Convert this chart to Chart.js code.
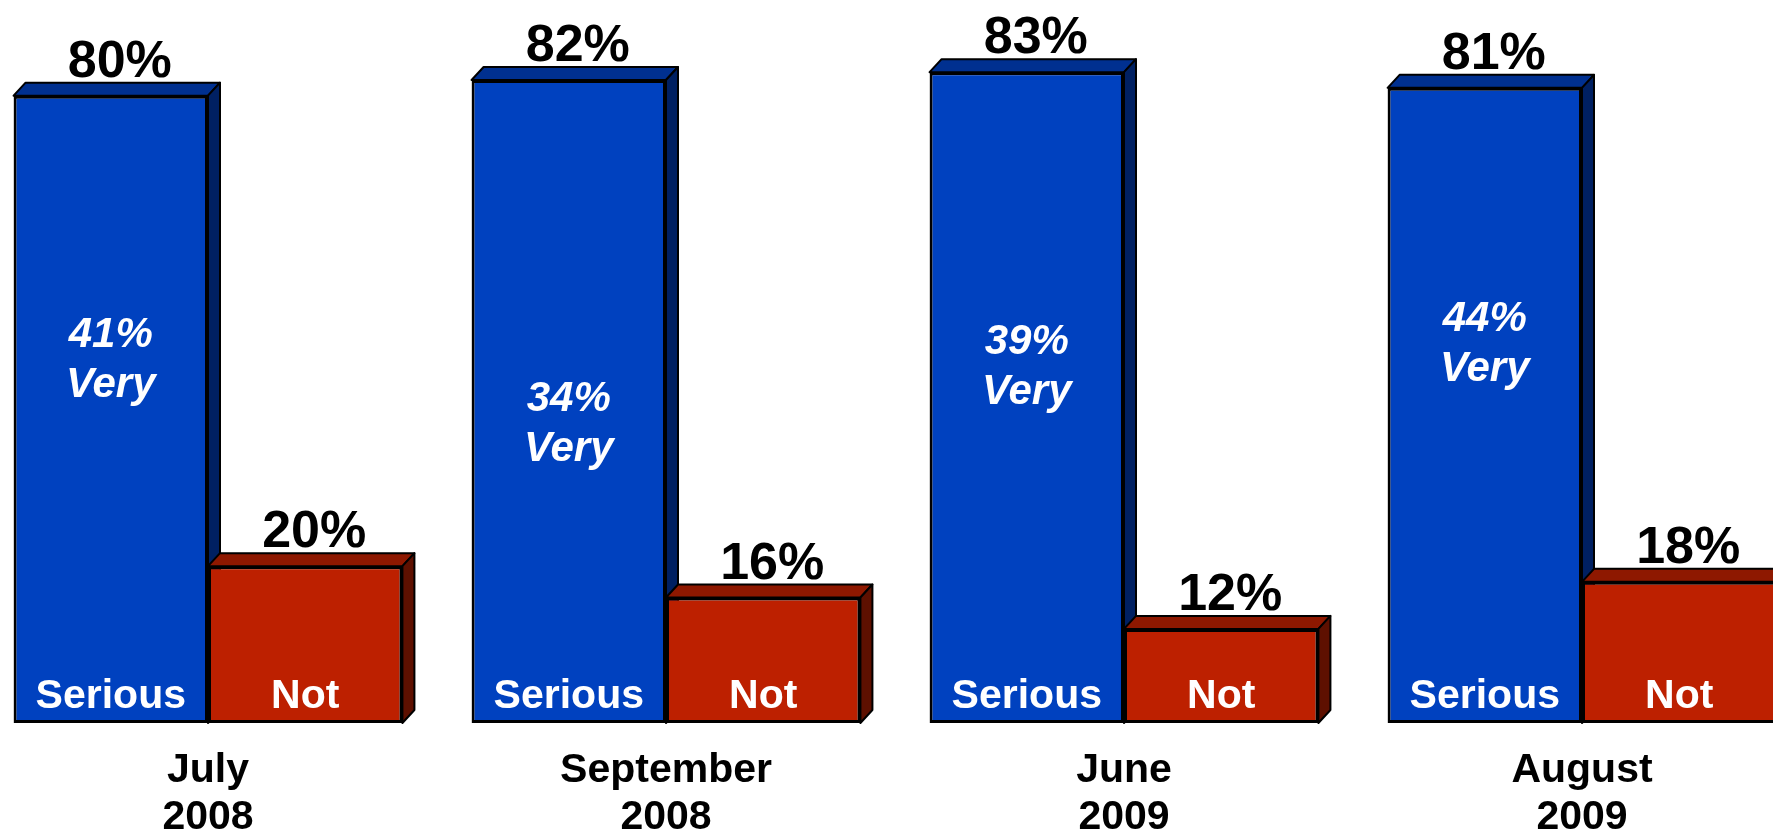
<!DOCTYPE html>
<html>
<head>
<meta charset="utf-8">
<script src="https://cdn.jsdelivr.net/npm/chart.js@4.4.1/dist/chart.umd.min.js"></script>
<style>
  html, body { margin: 0; padding: 0; background: #ffffff; }
  #wrap { width: 1773px; height: 835px; }
</style>
</head>
<body>
<div id="wrap"><canvas id="c" width="1773" height="835"></canvas></div>
<script>
// ---- data ----
const categories = [["July", "2008"], ["September", "2008"], ["June", "2009"], ["August", "2009"]];
const seriousValues = [80, 82, 83, 81];
const notSeriousValues = [20, 16, 12, 18];
const verySeriousValues = [41, 34, 39, 44];
const barNames = ["Serious", "Not"];

const FONT = "'Liberation Sans', Arial, Helvetica, sans-serif";
const DX = 12, DY = 13;

const faceColors = [
  { top: '#003090', side: '#002062' },
  { top: '#8E1800', side: '#5E1000' }
];

const depthPlugin = {
  id: 'depth',
  beforeDatasetsDraw(chart) {
    const ctx = chart.ctx;
    chart.data.datasets.forEach((ds, di) => {
      const meta = chart.getDatasetMeta(di);
      meta.data.forEach(el => {
        const p = el.getProps(['x', 'y', 'base', 'width'], true);
        const l = p.x - p.width / 2, r = p.x + p.width / 2, t = p.y, b = p.base;
        ctx.save();
        ctx.lineWidth = 2;
        ctx.strokeStyle = '#000';
        ctx.lineJoin = 'round';
        // top face
        ctx.beginPath();
        ctx.moveTo(l, t); ctx.lineTo(l + DX, t - DY); ctx.lineTo(r + DX, t - DY); ctx.lineTo(r, t); ctx.closePath();
        ctx.fillStyle = faceColors[di].top; ctx.fill(); ctx.stroke();
        // side face
        ctx.beginPath();
        ctx.moveTo(r, t); ctx.lineTo(r + DX, t - DY); ctx.lineTo(r + DX, b - DY); ctx.lineTo(r, b); ctx.closePath();
        ctx.fillStyle = faceColors[di].side; ctx.fill(); ctx.stroke();
        ctx.restore();
      });
    });
  }
};

// first-line baseline of the "xx% Very" note, in axis value units
const veryLabelAt = [47.96, 39.8, 47.07, 50.0];

const labelPlugin = {
  id: 'labels',
  afterDatasetsDraw(chart) {
    const ctx = chart.ctx;
    const yScale = chart.scales.y;
    ctx.save();
    chart.data.datasets.forEach((ds, di) => {
      const meta = chart.getDatasetMeta(di);
      meta.data.forEach((el, i) => {
        const p = el.getProps(['x', 'y', 'base', 'width'], true);
        // value above bar
        ctx.fillStyle = '#000';
        ctx.font = 'bold 52px ' + FONT;
        ctx.textAlign = 'center';
        ctx.textBaseline = 'alphabetic';
        ctx.fillText(ds.data[i] + '%', p.x + 9, p.y - DY - 6);
        // name inside bar
        ctx.fillStyle = '#fff';
        ctx.font = 'bold 41px ' + FONT;
        ctx.fillText(barNames[di], p.x, p.base - 15);
        if (di === 0) {
          ctx.font = 'italic bold 42px ' + FONT;
          const yb = yScale.getPixelForValue(veryLabelAt[i]);
          ctx.fillText(verySeriousValues[i] + '%', p.x, yb);
          ctx.fillText('Very', p.x, yb + 50);
        }
      });
    });
    ctx.restore();
  }
};

new Chart(document.getElementById('c'), {
  type: 'bar',
  data: {
    labels: categories,
    datasets: [
      { label: 'Serious', data: seriousValues, backgroundColor: '#0041BF', borderColor: '#000', borderWidth: 3, borderSkipped: false, clip: false },
      { label: 'Not', data: notSeriousValues, backgroundColor: '#BD2000', borderColor: '#000', borderWidth: 3, borderSkipped: false, clip: false }
    ]
  },
  options: {
    responsive: false,
    animation: false,
    devicePixelRatio: 1,
    layout: { padding: { left: 208, right: 191, top: 0, bottom: 0 } },
    datasets: { bar: { categoryPercentage: 0.849, barPercentage: 1.0 } },
    plugins: { legend: { display: false }, tooltip: { enabled: false }, title: { display: false } },
    scales: {
      x: {
        offset: false,
        grid: { display: false },
        border: { display: false },
        ticks: {
          color: '#000',
          font: { family: FONT, size: 41, weight: 'bold', lineHeight: 1.146 },
          padding: 16,
          maxRotation: 0,
          autoSkip: false
        },
        afterFit(scale) { scale.height = 112; }
      },
      y: {
        display: false,
        min: 0,
        max: 92.2
      }
    }
  },
  plugins: [depthPlugin, labelPlugin]
});
</script>
</body>
</html>
